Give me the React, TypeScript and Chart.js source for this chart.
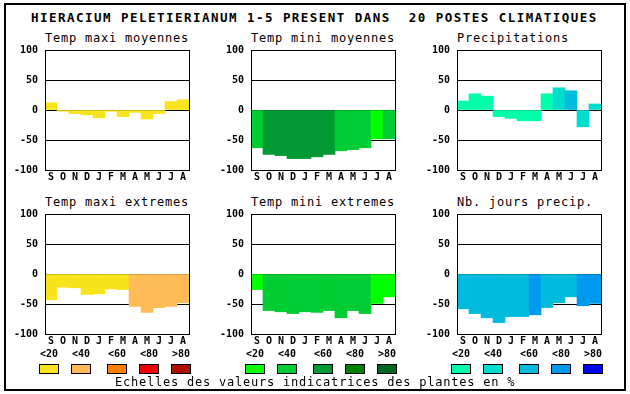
import React, { useEffect, useRef } from "react";
import { Chart, registerables } from "chart.js";
Chart.register(...registerables);

const months = ["S", "O", "N", "D", "J", "F", "M", "A", "M", "J", "J", "A"];
const yTicks = [-100, -50, 0, 50, 100];
const legendLabels = ["<20", "<40", "<60", "<80", ">80"];

const YELLOW = ["#f8e41c", "#ffbb55", "#ff8000", "#ee0000", "#aa1100"];
const GREEN = ["#00ff00", "#00cc33", "#009933", "#008000", "#006622"];
const BLUE = ["#00ffaa", "#00ddcc", "#00bbdd", "#0099ee", "#0000ff"];

const mainTitle = "HIERACIUM PELETIERIANUM 1-5 PRESENT DANS  20 POSTES CLIMATIQUES";
const footer = "Echelles des valeurs indicatrices des plantes en %";

// Temp maxi moyennes
const tMaxMoy = [12, -2, -6, -8, -13, -2, -11, -4, -15, -6, 14, 17];
const tMaxMoyCls = [0, 0, 0, 0, 0, 0, 0, 0, 0, 0, 0, 0];
// Temp mini moyennes
const tMinMoy = [-63, -74, -76, -81, -81, -78, -74, -68, -66, -63, -48, -48];
const tMinMoyCls = [1, 2, 2, 2, 2, 2, 2, 1, 1, 1, 0, 1];
// Precipitations
const precip = [15, 27, 23, -11, -14, -18, -18, 27, 37, 32, -28, 10];
const precipCls = [0, 0, 0, 0, 0, 0, 0, 0, 1, 2, 1, 1];
// Temp maxi extremes
const tMaxExt = [-43, -22, -23, -34, -33, -25, -26, -54, -64, -56, -54, -48];
const tMaxExtCls = [0, 0, 0, 0, 0, 0, 0, 1, 1, 1, 1, 1];
// Temp mini extremes
const tMinExt = [-26, -61, -63, -66, -63, -64, -61, -73, -61, -66, -49, -38];
const tMinExtCls = [0, 1, 1, 1, 1, 1, 1, 1, 1, 1, 0, 0];
// Nb. jours precip.
const nbJours = [-58, -66, -73, -81, -71, -71, -68, -56, -48, -38, -53, -49];
const nbJoursCls = [2, 2, 2, 2, 2, 2, 3, 2, 2, 2, 3, 3];

const MONO = "'DejaVu Sans Mono', monospace";
const PAD_TOP = 16;

const framePlugin = {
  id: "frame",
  afterDraw(chart: any) {
    const { ctx, chartArea } = chart;
    const { left, top, right, bottom } = chartArea;
    ctx.save();
    ctx.strokeStyle = "#000";
    ctx.lineWidth = 1;
    ctx.strokeRect(left + 0.5, top + 0.5, right - left, bottom - top);
    ctx.restore();
  },
};

type PanelProps = {
  left: number;
  top: number;
  title: string;
  data: number[];
  cls: number[];
  palette: string[];
};

function Panel({ left, top, title, data, cls, palette }: PanelProps) {
  const ref = useRef<HTMLCanvasElement>(null);
  useEffect(() => {
    const chart = new Chart(ref.current as HTMLCanvasElement, {
      type: "bar",
      data: {
        labels: months,
        datasets: [
          {
            data,
            backgroundColor: cls.map((c) => palette[c]),
            borderWidth: 0,
            barPercentage: 1,
            categoryPercentage: 1,
          },
        ],
      },
      options: {
        animation: false,
        responsive: false,
        devicePixelRatio: 1,
        layout: { padding: { top: PAD_TOP, right: 3, left: 0, bottom: 0 } },
        plugins: {
          legend: { display: false },
          tooltip: { enabled: false },
          title: { display: false },
        },
        scales: {
          x: {
            grid: { display: false, drawTicks: false },
            border: { display: false },
            ticks: {
              color: "#000",
              font: { family: MONO, weight: "bold", size: 10 },
              padding: 1,
              autoSkip: false,
              maxRotation: 0,
            },
            afterFit: (s: any) => {
              s.height = 16;
            },
          },
          y: {
            min: -100,
            max: 100,
            afterBuildTicks: (s: any) => {
              s.ticks = yTicks.map((v) => ({ value: v }));
            },
            grid: { color: "#000", lineWidth: 1, drawTicks: false },
            border: { display: false },
            ticks: {
              color: "#000",
              font: { family: MONO, weight: "bold", size: 10 },
              padding: 7,
            },
            afterFit: (s: any) => {
              s.width = 45;
              s.paddingTop = 0;
              s.paddingBottom = 0;
            },
            z: 1,
          },
        },
      } as any,
      plugins: [framePlugin],
    });
    return () => chart.destroy();
  }, []);
  return (
    <>
      <div
        style={{
          position: "absolute",
          left,
          top: top - 19,
          height: 14,
          lineHeight: "14px",
          fontFamily: MONO,
          fontSize: 12,
          letterSpacing: "0.78px",
          whiteSpace: "pre",
          color: "#000",
        }}
      >
        {title}
      </div>
      <canvas
        ref={ref}
        width={192}
        height={PAD_TOP + 136}
        style={{ position: "absolute", left: left - 45, top: top - PAD_TOP, width: 192, height: PAD_TOP + 136 }}
      />
    </>
  );
}

function LegendGroup({ left, palette }: { left: number; palette: string[] }) {
  const offsets = [0, 32, 68, 100, 132];
  return (
    <>
      {offsets.map((o, i) => (
        <React.Fragment key={i}>
          <div
            style={{
              position: "absolute",
              left: left + o - 5,
              width: 30,
              top: 347,
              height: 14,
              lineHeight: "14px",
              textAlign: "center",
              fontFamily: MONO,
              fontWeight: "bold",
              fontSize: 10,
              color: "#000",
            }}
          >
            {legendLabels[i]}
          </div>
          <div
            style={{
              position: "absolute",
              left: left + o,
              top: 364,
              width: 20,
              height: 10,
              boxSizing: "border-box",
              border: "1px solid #000",
              background: palette[i],
            }}
          />
        </React.Fragment>
      ))}
    </>
  );
}

export default function App() {
  useEffect(() => {
    document.body.style.margin = "0";
  }, []);
  return (
    <div style={{ position: "absolute", left: 0, top: 0, width: 630, height: 394, background: "#fff", overflow: "hidden" }}>
      <div
        style={{
          position: "absolute",
          left: 4,
          top: 3,
          width: 622,
          height: 388,
          boxSizing: "border-box",
          border: "2px solid #000",
        }}
      />
      <div
        style={{
          position: "absolute",
          left: 31,
          top: 11,
          height: 14,
          lineHeight: "14px",
          fontFamily: MONO,
          fontWeight: "bold",
          fontSize: 12.5,
          letterSpacing: "1.47px",
          whiteSpace: "pre",
          color: "#000",
        }}
      >
        {mainTitle}
      </div>
      <Panel left={45} top={50} title="Temp maxi moyennes" data={tMaxMoy} cls={tMaxMoyCls} palette={YELLOW} />
      <Panel left={251} top={50} title="Temp mini moyennes" data={tMinMoy} cls={tMinMoyCls} palette={GREEN} />
      <Panel left={457} top={50} title="Precipitations" data={precip} cls={precipCls} palette={BLUE} />
      <Panel left={45} top={214} title="Temp maxi extremes" data={tMaxExt} cls={tMaxExtCls} palette={YELLOW} />
      <Panel left={251} top={214} title="Temp mini extremes" data={tMinExt} cls={tMinExtCls} palette={GREEN} />
      <Panel left={457} top={214} title="Nb. jours precip." data={nbJours} cls={nbJoursCls} palette={BLUE} />
      <LegendGroup left={39} palette={YELLOW} />
      <LegendGroup left={245} palette={GREEN} />
      <LegendGroup left={451} palette={BLUE} />
      <div
        style={{
          position: "absolute",
          left: 115,
          top: 375,
          height: 14,
          lineHeight: "14px",
          fontFamily: MONO,
          fontSize: 12,
          letterSpacing: "0.78px",
          whiteSpace: "pre",
          color: "#000",
        }}
      >
        {footer}
      </div>
    </div>
  );
}
